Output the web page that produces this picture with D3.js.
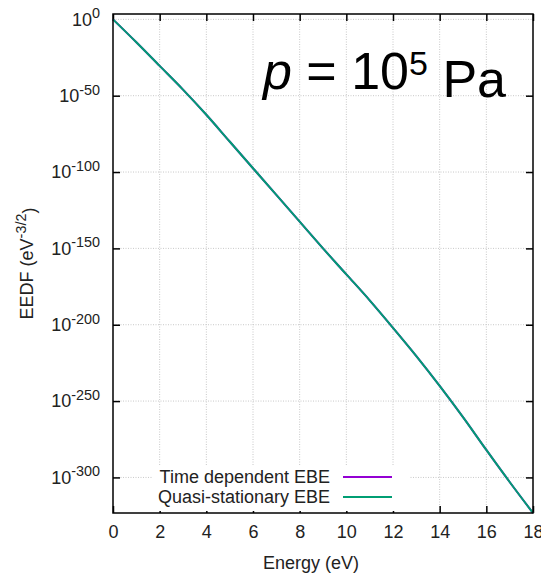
<!DOCTYPE html>
<html><head><meta charset="utf-8">
<script src="https://cdn.jsdelivr.net/npm/d3@7"></script>
<style>
html,body{margin:0;padding:0;background:#fff;}
svg{display:block;font-family:"Liberation Sans",Arial,Helvetica,sans-serif;}
</style></head>
<body>
<svg id="c" width="541" height="575"></svg>
<script>
// Data: energy (eV) and log10 of EEDF (eV^-3/2)
const energy = [0,1,2,3,4,5,6,7,8,9,10,11,12,13,14,15,16,17,18];
const logEEDF_quasi = [0,-15,-30.5,-46,-62.5,-80,-97.5,-115,-132.5,-150,-167,-184,-202,-220.5,-240,-260.5,-282,-303,-323.3];
const logEEDF_time  = [0,-15,-30.5,-46,-62.5,-80,-97.5,-115,-132.5,-150,-167,-184,-202,-220.5,-240,-260.5,-282,-303,-323.3];
const xTicks = [0,2,4,6,8,10,12,14,16,18];
const yTickExps = [0,-50,-100,-150,-200,-250,-300];
const seriesNames = ["Time dependent EBE","Quasi-stationary EBE"];
const seriesColors = ["#9400d3","#009e73"];

const svg = d3.select("#c");
const L=113, R=533, T=14, B=513;
const x = d3.scaleLinear().domain([0,18]).range([L,R]);
const y = d3.scaleLinear().domain([-323.3,3.5]).range([B,T]);
const fs = 18;

// grid
const grid = svg.append("g");
xTicks.forEach(v=>{ if(v>0&&v<18) grid.append("line").attr("x1",x(v)).attr("x2",x(v)).attr("y1",T).attr("y2",B)
  .attr("stroke","#c8c8c8").attr("stroke-width",1).attr("stroke-dasharray","1,1.5");});
yTickExps.forEach(v=>{ grid.append("line").attr("x1",L).attr("x2",R).attr("y1",y(v)).attr("y2",y(v))
  .attr("stroke","#c8c8c8").attr("stroke-width",1).attr("stroke-dasharray","1,1.5");});

// axes with inward ticks
const tl=7;
const gx = svg.append("g").attr("transform",`translate(0,${B})`)
  .call(d3.axisBottom(x).tickValues(xTicks).tickSizeInner(-tl).tickSizeOuter(0).tickPadding(12));
gx.select(".domain").remove();
gx.selectAll("text").attr("font-size",fs).attr("fill","#222").attr("font-family","Liberation Sans,Arial,sans-serif");
gx.selectAll("line").attr("stroke","#000").attr("stroke-width",1.5);
const gxt = svg.append("g").attr("transform",`translate(0,${T})`)
  .call(d3.axisTop(x).tickValues(xTicks).tickSizeInner(-tl).tickSizeOuter(0).tickFormat(""));
gxt.select(".domain").remove();
gxt.selectAll("line").attr("stroke","#000").attr("stroke-width",1.5);

const gy = svg.append("g").attr("transform",`translate(${L},0)`)
  .call(d3.axisLeft(y).tickValues(yTickExps).tickSizeInner(-tl).tickSizeOuter(0).tickPadding(13));
gy.select(".domain").remove();
gy.selectAll("line").attr("stroke","#000").attr("stroke-width",1.5).attr("opacity",d=>d===0?0:1);
gy.selectAll("text").each(function(d){
  const t=d3.select(this); t.text(null).attr("font-size",fs).attr("fill","#222").attr("font-family","Liberation Sans,Arial,sans-serif");
  t.append("tspan").text("10");
  t.append("tspan").attr("dy","-0.5em").attr("font-size",fs*0.8).text(String(d));
});
const gyr = svg.append("g").attr("transform",`translate(${R},0)`)
  .call(d3.axisRight(y).tickValues(yTickExps).tickSizeInner(-tl).tickSizeOuter(0).tickFormat(""));
gyr.select(".domain").remove();
gyr.selectAll("line").attr("stroke","#000").attr("stroke-width",1.5).attr("opacity",d=>d===0?0:1);

// legend background
svg.append("rect").attr("x",152).attr("y",466).attr("width",258).attr("height",45).attr("fill","#fff");

// curves
const line = d3.line().x((d,i)=>x(energy[i])).y(d=>y(d)).curve(d3.curveMonotoneX);
svg.append("path").datum(logEEDF_time).attr("d",line).attr("fill","none").attr("stroke",seriesColors[0]).attr("stroke-width",2);
svg.append("path").datum(logEEDF_quasi).attr("d",line).attr("fill","none").attr("stroke",seriesColors[1]).attr("stroke-width",2);

// border
svg.append("rect").attr("x",L).attr("y",T).attr("width",R-L).attr("height",B-T).attr("fill","none").attr("stroke","#000").attr("stroke-width",1.5);

// legend
seriesNames.forEach((n,i)=>{
  const yy = 477 + i*20;
  svg.append("text").attr("x",330).attr("y",yy).attr("dy","0.35em").attr("text-anchor","end")
    .attr("font-size",fs).attr("fill","#222").text(n);
  svg.append("line").attr("x1",343).attr("x2",392).attr("y1",yy).attr("y2",yy)
    .attr("stroke",seriesColors[i]).attr("stroke-width",2);
});

// axis labels
svg.append("text").attr("x",311).attr("y",569).attr("text-anchor","middle").attr("font-size",fs).attr("fill","#222").text("Energy (eV)");
const yl = svg.append("text").attr("transform",`translate(33,${(T+B)/2}) rotate(-90)`).attr("text-anchor","middle")
  .attr("font-size",fs).attr("fill","#222");
yl.append("tspan").text("EEDF (eV");
yl.append("tspan").attr("dy","-0.5em").attr("font-size",fs*0.8).text("-3/2");
yl.append("tspan").attr("dy","0.5em").text(")");

// annotation
const ann = svg.append("text").attr("x",263).attr("y",89).attr("font-size",52).attr("fill","#000");
ann.append("tspan").attr("font-style","italic").text("p");
ann.append("tspan").text(" = 10");
ann.append("tspan").attr("dy","-0.42em").attr("font-size",34).text("5");
ann.append("tspan").attr("dy","0.42em").text(" Pa");
</script>
</body></html>
